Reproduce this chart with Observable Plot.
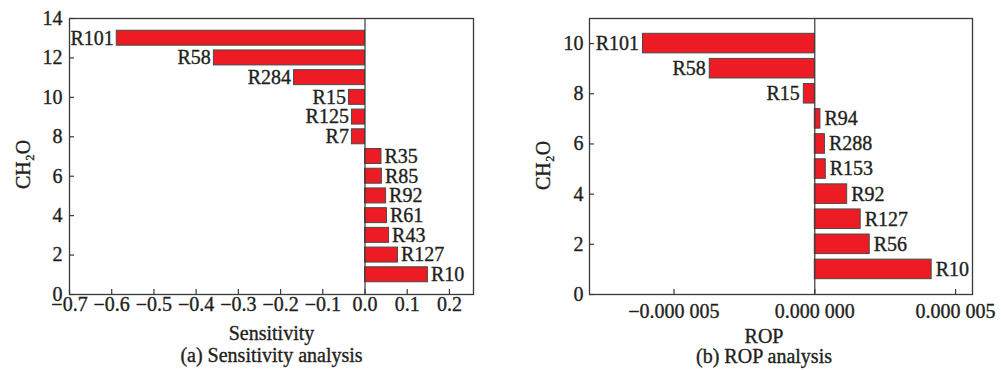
<!DOCTYPE html>
<html><head><meta charset="utf-8">
<script src="https://cdn.jsdelivr.net/npm/d3@7"></script>
<script src="https://cdn.jsdelivr.net/npm/@observablehq/plot@0.6"></script>
<style>
body{margin:0;background:#fff;width:1001px;height:370px;overflow:hidden}
#wrap{display:flex}
#wrap svg, #wrap svg text, #wrap svg g{font-family:"Liberation Serif","DejaVu Serif","Times New Roman",serif !important;font-size:20px !important}
#wrap svg text{stroke:#231f20;stroke-width:0.35px;paint-order:normal}
</style></head><body><div id="wrap"><div id="a"></div><div id="b"></div></div>
<script>
// (a) Sensitivity analysis
const sensReactions = ["R10","R127","R43","R61","R92","R85","R35","R7","R125","R15","R284","R58","R101"];
const sensRanks = [1,2,3,4,5,6,7,8,9,10,11,12,13];
const sensValues = [0.149,0.078,0.057,0.052,0.050,0.040,0.039,-0.031,-0.031,-0.038,-0.168,-0.358,-0.588];
const sensXTicks = [-0.7,-0.6,-0.5,-0.4,-0.3,-0.2,-0.1,0.0,0.1,0.2];
const sensXTickLabels = ["−0.7","−0.6","−0.5","−0.4","−0.3","−0.2","−0.1","0.0","0.1","0.2"];
const sensYTicks = [0,2,4,6,8,10,12,14];

// (b) ROP analysis
const ropReactions = ["R10","R56","R127","R92","R153","R288","R94","R15","R58","R101"];
const ropRanks = [1,2,3,4,5,6,7,8,9,10];
const ropValues = [4.15e-6,1.95e-6,1.63e-6,1.15e-6,0.39e-6,0.36e-6,0.20e-6,-0.39e-6,-3.73e-6,-6.10e-6];
const ropXTicks = [-5e-6,0,5e-6];
const ropXTickLabels = ["−0.000 005","0.000 000","0.000 005"];
const ropYTicks = [0,2,4,6,8,10];

const TXT = "#231f20";
const RED = "#ed1c24";

function chart(o) {
  const data = o.names.map((n, i) => ({name: n, rank: o.ranks[i], value: o.values[i]}));
  const pw = o.width - o.ml - o.mr, ph = o.height - o.mt - o.mb;
  const h = o.half;
  return Plot.plot({
    width: o.width, height: o.height,
    marginTop: o.mt, marginRight: o.mr, marginBottom: o.mb, marginLeft: o.ml,
    style: {color: TXT, background: "#fff"},
    x: {domain: o.xDomain},
    y: {domain: o.yDomain},
    marks: [
      Plot.rectX(data, {x1: 0, x2: "value", y1: d => d.rank - h, y2: d => d.rank + h, fill: RED, stroke: "#4a4a4a", strokeWidth: 1}),
      Plot.ruleX([0], {stroke: "#3a3a3a", strokeWidth: 1.2}),
      Plot.text(data.filter(d => d.value < 0), {x: "value", y: "rank", text: "name", textAnchor: "end", dx: -o.lblDx, fill: TXT}),
      Plot.text(data.filter(d => d.value >= 0), {x: "value", y: "rank", text: "name", textAnchor: "start", dx: o.lblDx, fill: TXT}),
      Plot.tickY(o.yTicks, {y: d => d, insetRight: pw - 5, stroke: "#3a3a3a", strokeWidth: 1.2}),
      Plot.tickX(o.xTicks, {x: d => d, insetTop: ph - 5, stroke: "#3a3a3a", strokeWidth: 1.2}),
      Plot.axisX({ticks: o.xTicks, tickSize: 0, tickPadding: o.xPad, tickFormat: d => o.xLabels[o.xTicks.indexOf(d)], label: null, fill: TXT}),
      Plot.axisY({ticks: o.yTicks, tickSize: 0, tickPadding: o.yPad, label: null, fill: TXT}),
      Plot.frame({stroke: "#3a3a3a", strokeWidth: 1.3}),
      Plot.text(["CH₂O"], {frameAnchor: "left", rotate: -90, dx: -o.yLabOff, dy: o.yLabDy, text: d => d, textAnchor: "middle", lineAnchor: "middle", fill: TXT}),
      Plot.text([o.xLabel], {frameAnchor: "bottom", dy: o.xLabDy, dx: o.capDx, text: d => d, lineAnchor: "middle", fill: TXT}),
      Plot.text([o.caption], {frameAnchor: "bottom", dy: o.capDy, dx: o.capDx, text: d => d, lineAnchor: "middle", fill: TXT})
    ]
  });
}

document.getElementById("a").append(chart({
  names: sensReactions, ranks: sensRanks, values: sensValues,
  width: 500, height: 370, mt: 18, mr: 27, mb: 76, ml: 69,
  xDomain: [-0.7, 0.257], yDomain: [0, 14], half: 0.38,
  xTicks: sensXTicks, xLabels: sensXTickLabels, yTicks: sensYTicks,
  xPad: 2, yPad: 7, lblDx: 3, yLabOff: 46, yLabDy: 8,
  xLabel: "Sensitivity", caption: "(a) Sensitivity analysis", xLabDy: 39, capDy: 61.5, capDx: 0
}));
document.getElementById("b").append(chart({
  names: ropReactions, ranks: ropRanks, values: ropValues,
  width: 501, height: 370, mt: 18, mr: 29, mb: 76, ml: 89,
  xDomain: [-8e-6, 5.6e-6], yDomain: [0, 11], half: 0.39,
  xTicks: ropXTicks, xLabels: ropXTickLabels, yTicks: ropYTicks,
  xPad: 9, yPad: 6, lblDx: 4, yLabOff: 46, yLabDy: 9,
  xLabel: "ROP", caption: "(b) ROP analysis", xLabDy: 42.5, capDy: 62.5, capDx: -17
}));
</script></body></html>
